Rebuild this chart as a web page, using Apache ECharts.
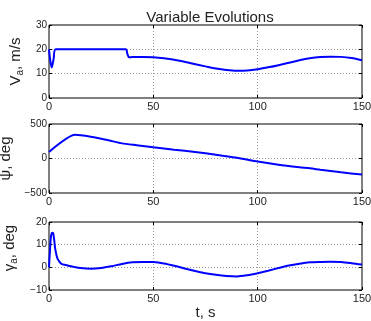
<!DOCTYPE html>
<html><head><meta charset="utf-8">
<script src="https://cdn.jsdelivr.net/npm/echarts@6/dist/echarts.min.js"></script>
<style>html,body{margin:0;padding:0;background:#fff}#c{width:371px;height:321px}</style>
</head><body><div id="c"></div>
<script>
var tVa = [0, 0.6, 1.3, 2.2, 3.2, 10, 20, 30, 36.8, 37.6, 38.4, 40, 45, 50, 55, 60, 67.5, 75, 80, 85, 90, 95, 100, 105, 110, 115, 120, 125, 130, 135, 140, 145, 150];
var vaValues = [20, 15.5, 12.5, 16, 20, 20, 20, 20, 20, 18, 16.7, 16.8, 16.9, 16.7, 16.3, 15.7, 14.4, 13, 12.1, 11.5, 11.2, 11.3, 11.8, 12.6, 13.5, 14.5, 15.5, 16.3, 16.8, 17, 16.9, 16.4, 15.5];
var tPsi = [0, 12.5, 20, 28, 35, 42, 50, 60, 70, 80, 90, 100, 110, 120, 125, 130, 140, 150];
var psiValues = [95, 343, 315, 268, 219, 192, 162, 128, 95, 55, 10, -45, -92, -128, -143, -163, -200, -233];
var tGamma = [0, 0.5, 1, 1.6, 2, 2.5, 3, 4, 5, 6, 8, 10, 12, 15, 20, 25, 30, 35, 40, 45, 50, 55, 60, 65, 70, 75, 80, 85, 90, 95, 100, 105, 110, 115, 120, 125, 130, 135, 140, 145, 150];
var gammaValues = [0, 8, 14, 15.3, 15, 12, 8, 4, 2.5, 1.5, 1, 0.6, 0.2, -0.3, -0.6, -0.3, 0.5, 1.5, 2.2, 2.4, 2.3, 1.7, 0.7, -0.5, -1.6, -2.6, -3.3, -3.8, -4, -3.5, -2.6, -1.5, -0.3, 0.8, 1.6, 2.2, 2.4, 2.5, 2.3, 1.8, 1.2];
var xTicks = [0, 50, 100, 150];

function pairs(t, v) { return t.map(function (x, i) { return [x, v[i]]; }); }

var chart = echarts.init(document.getElementById('c'), null, {renderer: 'canvas'});
var font = 'Liberation Sans, Arial, sans-serif';
var grids = [
  {left: 49, top: 25, width: 313, height: 73},
  {left: 49, top: 124, width: 313, height: 69},
  {left: 49, top: 222, width: 313, height: 68}
].map(function (g) {
  return Object.assign({show: true, borderColor: '#000', borderWidth: 1, backgroundColor: 'transparent',
    containLabel: false, outerBoundsMode: 'none'}, g);
});

var dotted = {show: true, showMinLine: false, showMaxLine: false, lineStyle: {color: '#999', type: [1, 2], width: 1}};
var tick = {show: true, inside: true, length: 3, lineStyle: {color: '#000'}};

function xAxis(i, name) {
  return {
    type: 'value', gridIndex: i, min: 0, max: 150, interval: 50, position: 'bottom',
    axisLine: {show: false, onZero: false},
    axisTick: tick,
    axisLabel: {color: '#222', fontSize: 11, fontFamily: font, margin: 3},
    splitLine: dotted,
    name: name || '', nameLocation: 'middle', nameGap: 15,
    nameTextStyle: {fontSize: 15, color: '#222', fontFamily: font}
  };
}
function xAxisTop(i) {
  return {type: 'value', gridIndex: i, min: 0, max: 150, interval: 50, position: 'top',
    axisLine: {show: false, onZero: false}, axisTick: tick, axisLabel: {show: false}, splitLine: {show: false}};
}
function yAxis(i, min, max, interval, name, gap, pad) {
  return {
    type: 'value', gridIndex: i, min: min, max: max, interval: interval, position: 'left',
    axisLine: {show: false, onZero: false},
    axisTick: tick,
    axisLabel: {color: '#222', fontSize: 10, fontFamily: font, margin: 2,
      formatter: function (v) { return v < 0 ? '\u2212' + Math.abs(v) : String(v); }},
    splitLine: dotted,
    name: name, nameLocation: 'middle', nameGap: gap, nameRotate: 90,
    nameTextStyle: {fontSize: 15, color: '#222', fontFamily: font, padding: pad,
      rich: {
        m: {fontSize: 15, color: '#222', fontFamily: font},
        s: {fontSize: 10, color: '#222', fontFamily: font, verticalAlign: 'bottom', padding: [8, 0, 0, 0]}
      }}
  };
}
function yAxisRight(i, min, max, interval) {
  return {type: 'value', gridIndex: i, min: min, max: max, interval: interval, position: 'right',
    axisLine: {show: false, onZero: false}, axisTick: tick, axisLabel: {show: false}, splitLine: {show: false}};
}

chart.setOption({
  animation: false,
  title: {text: 'Variable Evolutions', left: 205, top: 5, textAlign: 'center',
    textStyle: {fontSize: 15, fontWeight: 'normal', color: '#222', fontFamily: font}},
  grid: grids,
  xAxis: [xAxis(0), xAxis(1), xAxis(2, 't, s'), xAxisTop(0), xAxisTop(1), xAxisTop(2)],
  yAxis: [
    yAxis(0, 0, 30, 10, '{m|V}{s|a}{m|, m/s}', 19, 0),
    yAxis(1, -500, 500, 500, '{m|\u03c8, deg}', 21, 0),
    yAxis(2, -10, 20, 10, '{m|\u03b3}{s|a}{m|, deg}', 24, [0, 0, 0, 16]),
    yAxisRight(0, 0, 30, 10), yAxisRight(1, -500, 500, 500), yAxisRight(2, -10, 20, 10)
  ],
  series: [
    {type: 'line', xAxisIndex: 0, yAxisIndex: 0, data: pairs(tVa, vaValues), showSymbol: false, smooth: 0.3, lineStyle: {color: '#0000ff', width: 2}},
    {type: 'line', xAxisIndex: 1, yAxisIndex: 1, data: pairs(tPsi, psiValues), showSymbol: false, smooth: 0.2, lineStyle: {color: '#0000ff', width: 2}},
    {type: 'line', xAxisIndex: 2, yAxisIndex: 2, data: pairs(tGamma, gammaValues), showSymbol: false, smooth: 0.3, lineStyle: {color: '#0000ff', width: 2}}
  ]
});
</script></body></html>
